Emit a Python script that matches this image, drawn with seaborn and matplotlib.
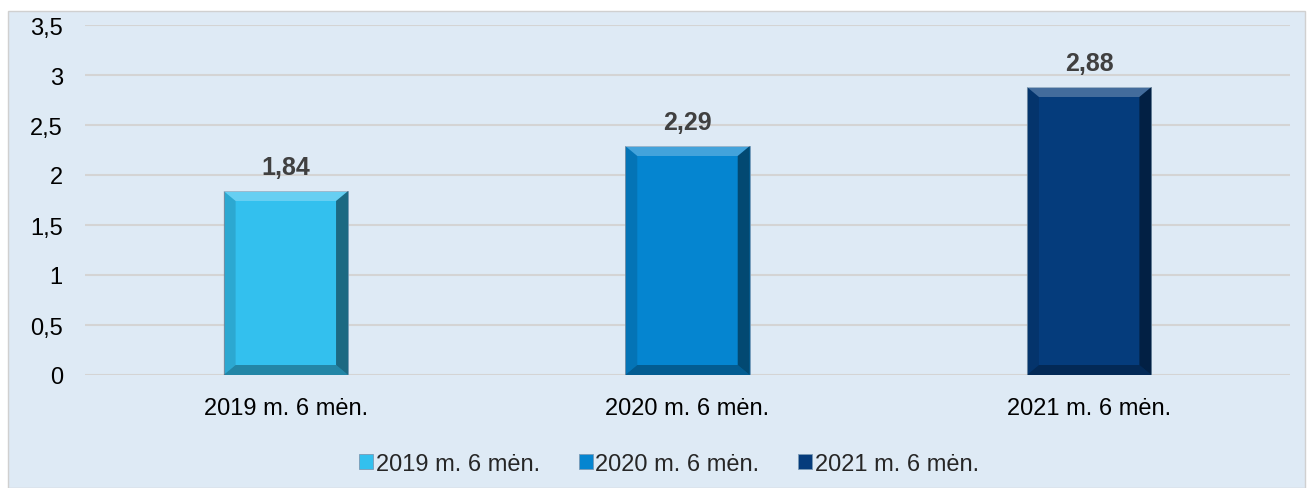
import matplotlib
matplotlib.use("Agg")
import matplotlib.pyplot as plt
import matplotlib.patches as mpatches
import seaborn as sns
import pandas as pd

# Data
categories = ["2019 m. 6 mėn.", "2020 m. 6 mėn.", "2021 m. 6 mėn."]
values = [1.84, 2.29, 2.88]
labels = ["1,84", "2,29", "2,88"]
colors = ["#33C0EE", "#0585D0", "#053C7C"]
yticks = [0, 0.5, 1, 1.5, 2, 2.5, 3, 3.5]
ytick_labels = ["0", "0,5", "1", "1,5", "2", "2,5", "3", "3,5"]

df = pd.DataFrame({"period": categories, "value": values})

sns.set_theme(style="white")
plt.rcParams['font.family'] = ['Liberation Sans', 'DejaVu Sans']

fig = plt.figure(figsize=(13.11, 4.89), dpi=100)
bg = "#DEEAF5"
# panel background behind the axes
panel = mpatches.Rectangle((8 / 1311, 0), 1297 / 1311, 1 - 12 / 489,
                           transform=fig.transFigure, facecolor=bg,
                           edgecolor="#D0D0D0", linewidth=1, zorder=-10)
fig.patches.append(panel)

ax = fig.add_axes([85 / 1311, 113 / 489, 1205 / 1311, 350 / 489])
ax.patch.set_alpha(0)

sns.barplot(data=df, x="period", y="value", hue="period", palette=colors,
            saturation=1, width=0.31, dodge=False, legend=True, ax=ax,
            zorder=3, edgecolor="#7a9ab5", linewidth=0.6)

ax.set_ylim(0, 3.5)
ax.set_yticks(yticks)
ax.set_yticklabels(ytick_labels, fontsize=17, color="black")
ax.tick_params(axis="x", labelsize=17, colors="black", pad=16, length=0)
ax.tick_params(axis="y", pad=16, length=0)
ax.set_xlabel("")
ax.set_ylabel("")
ax.grid(axis="y", color="#D4D4D4", linewidth=1.5, zorder=0)
ax.set_axisbelow(True)
for s in ax.spines.values():
    s.set_visible(False)

# simple bevel look on each bar (light top, dark right/bottom)
bx = 0.03
by = 0.1
bars = [p for p in ax.patches if p.get_height() > 0 and p.get_width() > 0]
for bar in bars:
    x0, y0 = bar.get_x(), bar.get_y()
    w, h = bar.get_width(), bar.get_height()
    x1, y1 = x0 + w, y0 + h
    top = [(x0, y1), (x1, y1), (x1 - bx, y1 - by), (x0 + bx, y1 - by)]
    right = [(x1, y1), (x1, y0), (x1 - bx, y0 + by), (x1 - bx, y1 - by)]
    bottom = [(x0, y0), (x1, y0), (x1 - bx, y0 + by), (x0 + bx, y0 + by)]
    left = [(x0, y0), (x0, y1), (x0 + bx, y1 - by), (x0 + bx, y0 + by)]
    ax.add_patch(mpatches.Polygon(top, closed=True, facecolor="white",
                                  alpha=0.25, lw=0, zorder=4))
    ax.add_patch(mpatches.Polygon(right, closed=True, facecolor="black",
                                  alpha=0.45, lw=0, zorder=4))
    ax.add_patch(mpatches.Polygon(bottom, closed=True, facecolor="black",
                                  alpha=0.3, lw=0, zorder=4))
    ax.add_patch(mpatches.Polygon(left, closed=True, facecolor="black",
                                  alpha=0.12, lw=0, zorder=4))

for i, (v, lab) in enumerate(zip(values, labels)):
    ax.text(i, v + 0.12, lab, ha="center", va="bottom", fontsize=18,
            fontweight="bold", color="#404040")

handles, leg_labels = ax.get_legend_handles_labels()
ax.legend(handles, leg_labels, loc="center",
          bbox_to_anchor=(669 / 1311, 1 - 465 / 489),
          bbox_transform=fig.transFigure,
          ncol=3, frameon=False, fontsize=17, handlelength=0.6,
          handleheight=0.6, handletextpad=0.1, columnspacing=1.65)

fig.savefig("out.png", dpi=100)
